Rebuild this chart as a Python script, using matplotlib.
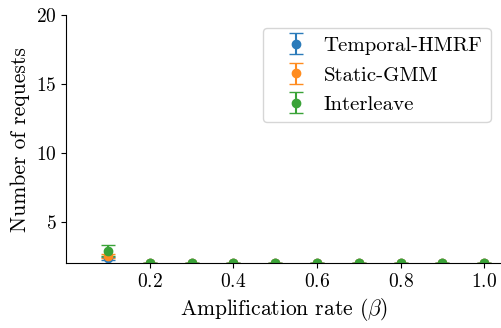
import matplotlib
matplotlib.use('Agg')
import matplotlib.pyplot as plt

plt.rcParams['font.family'] = 'serif'
plt.rcParams['font.serif'] = ['cmr10']
plt.rcParams['mathtext.fontset'] = 'cm'
plt.rcParams['axes.formatter.use_mathtext'] = True
plt.rcParams['font.size'] = 14

# dati
beta = [0.1, 0.2, 0.3, 0.4, 0.5, 0.6, 0.7, 0.8, 0.9, 1.0]
temporal_hmrf = [2.35, 2.0, 2.0, 2.0, 2.0, 2.0, 2.0, 2.0, 2.0, 2.0]
temporal_err = [0.1, 0, 0, 0, 0, 0, 0, 0, 0, 0]
static_gmm = [2.52, 2.03, 2.0, 2.0, 2.0, 2.0, 2.0, 2.0, 2.0, 2.0]
static_err = [0.12, 0, 0, 0, 0, 0, 0, 0, 0, 0]
interleave = [2.9, 2.0, 2.0, 2.0, 2.0, 2.0, 2.0, 2.0, 2.0, 2.0]
interleave_err = [0.42, 0, 0, 0, 0, 0, 0, 0, 0, 0]

fig, ax = plt.subplots(figsize=(5.01, 3.28), dpi=100)

ax.errorbar(beta, temporal_hmrf, yerr=temporal_err, fmt='o', capsize=5,
            color='#2b7bba', label='Temporal-HMRF')
ax.errorbar(beta, static_gmm, yerr=static_err, fmt='o', capsize=5,
            color='#ff8c1f', label='Static-GMM')
ax.errorbar(beta, interleave, yerr=interleave_err, fmt='o', capsize=5,
            color='#3aa338', label='Interleave')

ax.set_xlim(0.0, 1.04)
ax.set_ylim(2, 20)
ax.set_xticks([0.2, 0.4, 0.6, 0.8, 1.0])
ax.set_yticks([5, 10, 15, 20])
ax.spines['top'].set_visible(False)
ax.spines['right'].set_visible(False)

ax.set_xlabel(r'Amplification rate ($\beta$)', fontsize=15.5)
ax.set_ylabel('Number of requests', fontsize=15.5)
ax.legend(loc='upper right', bbox_to_anchor=(1.0, 0.99), fontsize=15,
          labelspacing=0.53, handlelength=2.37, handletextpad=0.15)

fig.subplots_adjust(left=0.132, right=1.0, top=0.954, bottom=0.198)
fig.savefig('out.png')
plt.close(fig)
